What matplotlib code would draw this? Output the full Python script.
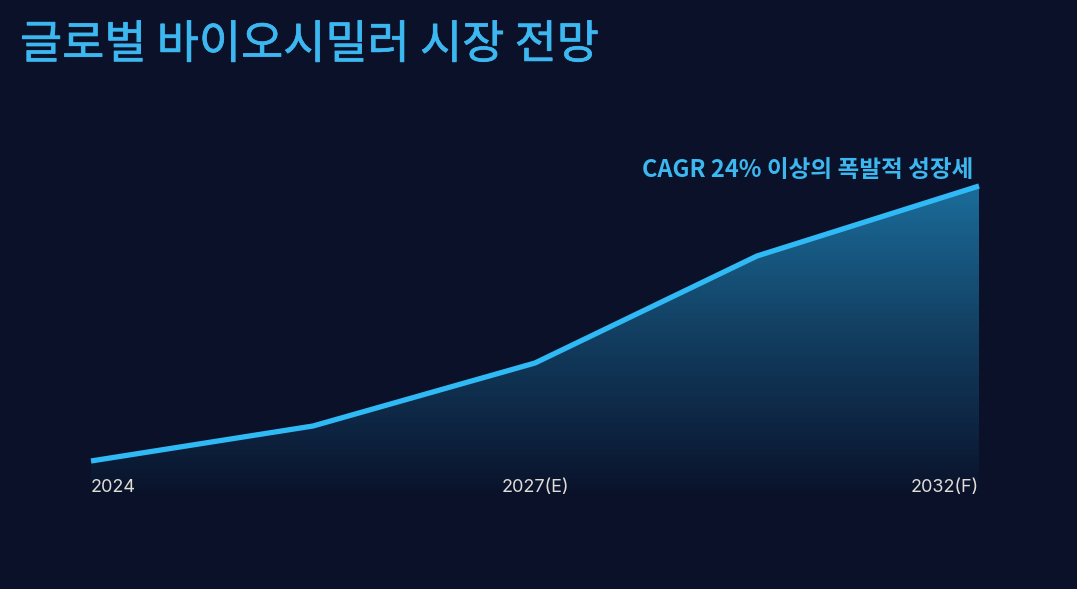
import numpy as np
import matplotlib
matplotlib.use("Agg")
import matplotlib.pyplot as plt
import matplotlib.patheffects as pe
from matplotlib.colors import LinearSegmentedColormap

# ---- data ----
title = "글로벌 바이오시밀러 시장 전망"
annotation = "CAGR 24% 이상의 폭발적 성장세"
x_index = [0, 1, 2, 3, 4]
market_values = [39, 74, 137, 244, 314]
tick_positions = [0, 2, 4]
tick_labels = ["2024", "2027(E)", "2032(F)"]

BG = "#0a1129"
LINE = "#2fb9f5"
TITLE_C = "#3cb7f0"
TICK_C = "#e2ded6"

plt.rcParams['font.family'] = ['Noto Sans CJK KR', 'DejaVu Sans']

fig = plt.figure(figsize=(10.77, 5.89), dpi=100, facecolor=BG)
W, H = 1077, 589
left, right, top, bottom = 91, 979, 186, 500
ax = fig.add_axes([left / W, (H - bottom) / H, (right - left) / W, (bottom - top) / H])
ax.set_facecolor(BG)
ymax = max(market_values)
ax.set_xlim(x_index[0], x_index[-1])
ax.set_ylim(0, ymax)
ax.axis('off')

# gradient fill
cmap = LinearSegmentedColormap.from_list(
    "g", [(0.16, 0.71, 0.96, 0.0), (0.16, 0.71, 0.96, 0.26), (0.16, 0.71, 0.96, 0.56)])
grad = np.linspace(0, 1, 256).reshape(-1, 1)
poly = ax.fill_between(x_index, market_values, 0, color='none', lw=0)
im = ax.imshow(grad, extent=[x_index[0], x_index[-1], 0, ymax], origin='lower',
               aspect='auto', cmap=cmap, interpolation='bicubic', zorder=1)
path = poly.get_paths()[0]
im.set_clip_path(path, transform=ax.transData)

ax.plot(x_index, market_values, color=LINE, lw=3.8, solid_capstyle='butt',
        solid_joinstyle='round', zorder=3, clip_on=False)

# tick labels
xt = ax.get_xaxis_transform()
has = ['left', 'center', 'right']
for pos, lab, ha in zip(tick_positions, tick_labels, has):
    ax.text(pos, 13 / (bottom - top), lab, transform=xt, ha=ha, va='center',
            color=TICK_C, fontsize=13, family=['Inter', 'DejaVu Sans'], zorder=4)

# annotation
ax.text(x_index[-1] - 6 / 222, 1 + 16 / (bottom - top), annotation, transform=xt,
        ha='right', va='center', color=TITLE_C, fontsize=17, fontweight='bold',
        zorder=4)

fig.text(20 / W, 1 - 45 / H, title, ha='left', va='center', color=TITLE_C,
         fontsize=33, fontweight='normal',
         path_effects=[pe.withStroke(linewidth=0.5, foreground=TITLE_C)])

fig.savefig("out.png", dpi=100, facecolor=BG)
